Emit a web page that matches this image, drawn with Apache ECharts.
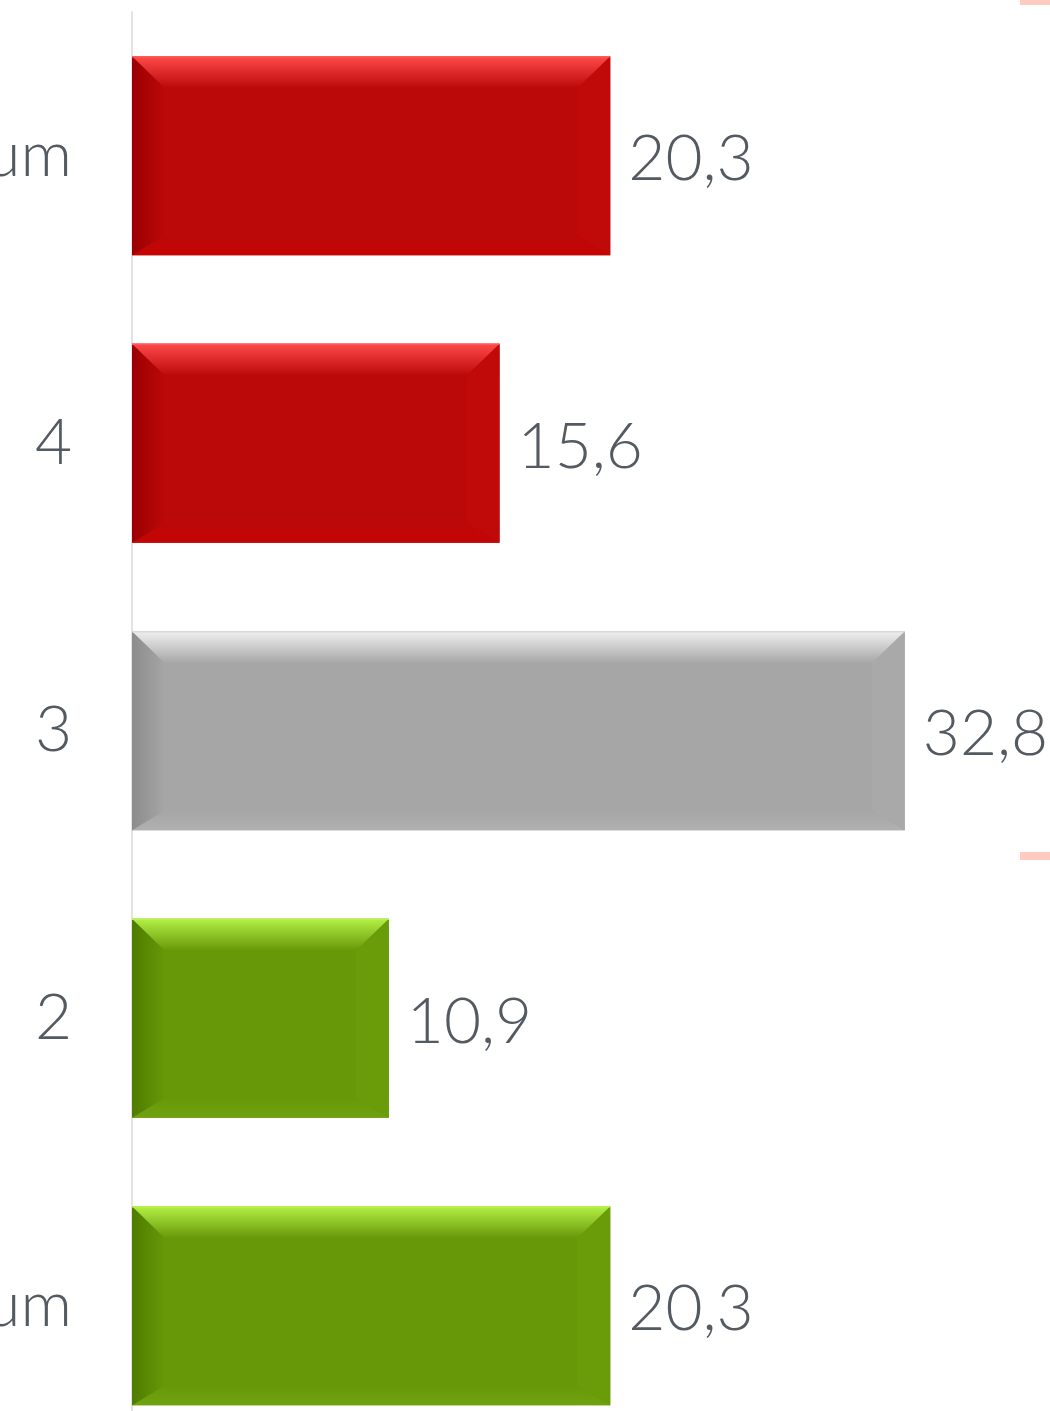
<!DOCTYPE html>
<html>
<head>
<meta charset="utf-8">
<style>
  html, body { margin: 0; padding: 0; background: #fff; }
  #chart { width: 1050px; height: 1411px; }
</style>
<script src="https://cdn.jsdelivr.net/npm/echarts@6/dist/echarts.min.js"></script>
</head>
<body>
<div id="chart"></div>
<script>
// Bar levels, top to bottom
var categories = ['Maximum', '4', '3', '2', 'Minimum'];
var values = [20.3, 15.6, 32.8, 10.9, 20.3];
var valueLabels = ['20,3', '15,6', '32,8', '10,9', '20,3'];

(function() {
  var ink = '#545a61';
  var font = 'Lato, "Open Sans", sans-serif';

  // bevel palettes: base, top light, left dark, right, bottom
  var red = { base: '#bb0808', top: '#ff4a4a', left: '#9c0000', right: '#c00909', bottom: '#c60404', edge: '#ff5a5a' };
  var gray = { base: '#a6a6a6', top: '#f0f0f0', left: '#8c8c8c', right: '#a9a9a9', bottom: '#b0b0b0', edge: '#d8d8d8' };
  var green = { base: '#679808', top: '#b4f046', left: '#4e7c00', right: '#6a9c0a', bottom: '#70a210', edge: '#b8f050' };
  var palettes = [red, red, gray, green, green];

  function renderItem(params, api) {
    var idx = api.value(1);
    var p0 = api.coord([0, idx]);
    var p1 = api.coord([api.value(0), idx]);
    var h = api.size([0, 1])[1] * 0.692;
    var x0 = p0[0], x1 = p1[0];
    var yT = p0[1] - h / 2, yB = p0[1] + h / 2;
    var b = 33, t = 32, bb = 20;
    var c = palettes[idx];
    return {
      type: 'group',
      children: [
        { type: 'rect', shape: { x: x0, y: yT, width: x1 - x0, height: h }, style: { fill: c.base } },
        { type: 'polygon', shape: { points: [[x0, yB], [x1, yB], [x1 - b, yB - bb], [x0 + b, yB - bb]] },
          style: { fill: new echarts.graphic.LinearGradient(0, 0, 0, 1, [{ offset: 0, color: c.base }, { offset: 1, color: c.bottom }]) } },
        { type: 'polygon', shape: { points: [[x0, yT], [x0 + b, yT + t], [x0 + b, yB - bb], [x0, yB]] },
          style: { fill: new echarts.graphic.LinearGradient(0, 0, 1, 0, [{ offset: 0, color: c.left }, { offset: 1, color: c.base }]) } },
        { type: 'polygon', shape: { points: [[x1, yT], [x1, yB], [x1 - b, yB - bb], [x1 - b, yT + t]] },
          style: { fill: c.right } },
        { type: 'polygon', shape: { points: [[x0, yT], [x1, yT], [x1 - b, yT + t], [x0 + b, yT + t]] },
          style: { fill: new echarts.graphic.LinearGradient(0, 0, 0, 1, [{ offset: 0, color: c.top }, { offset: 1, color: c.base }]) } },
        { type: 'line', shape: { x1: x0, y1: yT + 0.5, x2: x1, y2: yT + 0.5 }, style: { stroke: c.edge, lineWidth: 1.5 } },
        { type: 'text', style: { text: valueLabels[idx], x: x1 + 18, y: p0[1] + 4, fill: ink, fontSize: 64, fontFamily: font, fontWeight: 300, align: 'left', verticalAlign: 'middle' } }
      ]
    };
  }

  var chart = echarts.init(document.getElementById('chart'), null, { renderer: 'canvas' });
  chart.setOption({
    animation: false,
    backgroundColor: '#fff',
    grid: { left: 132, top: 12, width: 942.4, height: 1437.5, containLabel: false, outerBoundsMode: 'none' },
    xAxis: { type: 'value', min: 0, max: 40, show: false },
    yAxis: {
      type: 'category',
      data: categories,
      inverse: true,
      axisLine: { show: true, lineStyle: { color: '#e2e2e8', width: 2 } },
      axisTick: { show: false },
      axisLabel: { color: ink, fontSize: 64, fontFamily: font, fontWeight: 300, margin: 60 },
      splitLine: { show: false }
    },
    graphic: [
      { type: 'rect', shape: { x: 1020, y: 0, width: 30, height: 5 }, style: { fill: '#ffcbc0' } },
      { type: 'rect', shape: { x: 1020, y: 852, width: 30, height: 8 }, style: { fill: '#ffcbc0' } }
    ],
    series: [{
      type: 'custom',
      renderItem: renderItem,
      encode: { x: 0, y: 1 },
      data: values.map(function(v, i) { return [v, i]; })
    }]
  });
  window.addEventListener('resize', function() { chart.resize(); });
})();
</script>
</body>
</html>
